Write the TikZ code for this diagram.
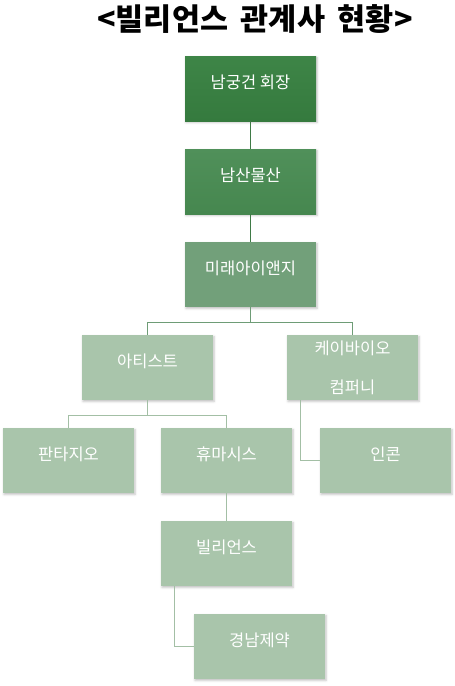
\documentclass[tikz,border=0pt]{standalone}
\usepackage{fontspec}
\setmainfont{Noto Sans CJK KR}
\usetikzlibrary{shadows.blur}
\definecolor{dkA}{HTML}{3E8547}
\definecolor{dkB}{HTML}{357A3E}
\definecolor{mdA}{HTML}{50905A}
\definecolor{mdB}{HTML}{46874F}
\definecolor{lgA}{HTML}{72A07A}
\definecolor{ltA}{HTML}{A9C5AB}
\definecolor{lnA}{HTML}{3F7A46}
\definecolor{lnB}{HTML}{6E9C76}
\definecolor{lnC}{HTML}{A3BFA5}
\begin{document}
\begin{tikzpicture}[x=1pt,y=-1pt,
  box/.style={rectangle, minimum width=131pt, minimum height=65pt, inner sep=0pt,
    blur shadow={shadow xshift=1pt, shadow yshift=-1.5pt, shadow blur steps=4, shadow opacity=25}},
  lbl/.style={text=white, font=\fontsize{16.5pt}{20pt}\selectfont, inner sep=0pt, yshift=6pt},
  darkbox/.style={box, top color=dkA, bottom color=dkB},
  midbox/.style={box, top color=mdA, bottom color=mdB},
  lgbox/.style={box, fill=lgA},
  ltbox/.style={box, fill=ltA},
  conn/.style={line width=0.8pt}
]
\useasboundingbox (0,0) rectangle (455,686);
\node[font=\fontsize{30.5pt}{34pt}\selectfont\bfseries, inner sep=0pt] (title) at (255,19) {<빌리언스\hspace{0.42em}관계사\hspace{0.42em}현황>};

\node[darkbox, label={[lbl]center:남궁건 회장}] (b1) at (250.5,88.5) {};
\node[midbox, label={[lbl]center:남산물산}] (b2) at (250.5,181.5) {};
\node[lgbox, label={[lbl]center:미래아이앤지}] (b3) at (250.5,274.5) {};
\node[ltbox, label={[lbl]center:아티스트}] (b4) at (147.5,367.5) {};
\node[ltbox, text=white, align=center, font=\fontsize{16.5pt}{39pt}\selectfont] (b5) at (352.5,367.5) {케이바이오\\컴퍼니};
\node[ltbox, label={[lbl]center:판타지오}] (b6) at (68.5,460.5) {};
\node[ltbox, label={[lbl]center:휴마시스}] (b7) at (226.5,460.5) {};
\node[ltbox, label={[lbl]center:인콘}] (b8) at (385.5,460.5) {};
\node[ltbox, label={[lbl]center:빌리언스}] (b9) at (226.5,553.5) {};
\node[ltbox, label={[lbl]center:경남제약}] (b10) at (259.5,646.5) {};

\coordinate (j1) at (250.5,322);
\coordinate (j2) at (147.5,415);

\draw[conn, lnA] (b1.south) -- (b2.north);
\draw[conn, lnA] (b2.south) -- (b3.north);
\draw[conn, lnB] (b3.south) -- (j1);
\draw[conn, lnB] (j1) -| (b4.north);
\draw[conn, lnB] (j1) -| (b5.north);
\draw[conn, lnC] (b4.south) -- (j2);
\draw[conn, lnC] (j2) -| (b6.north);
\draw[conn, lnC] (j2) -| (b7.north);
\draw[conn, lnC] ([xshift=14pt]b5.south west) |- (b8.west);
\draw[conn, lnC] (b7.south) -- (b9.north);
\draw[conn, lnC] ([xshift=14pt]b9.south west) |- (b10.west);
\end{tikzpicture}
\end{document}
